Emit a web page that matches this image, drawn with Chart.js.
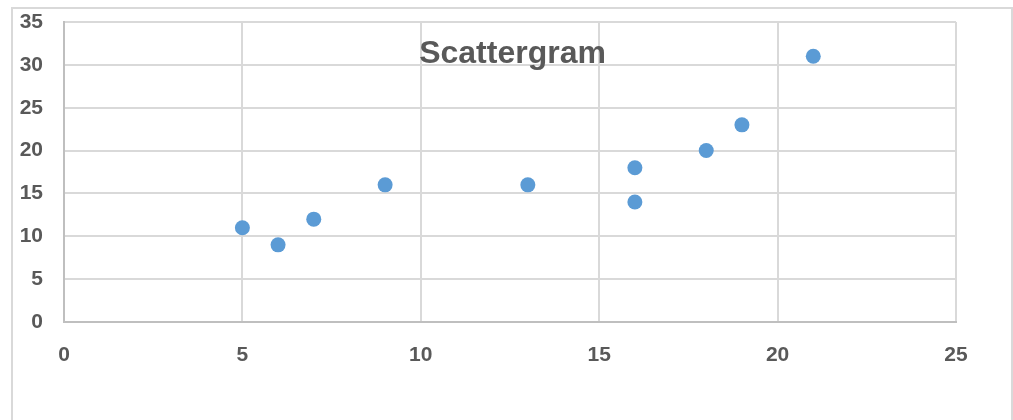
<!DOCTYPE html>
<html>
<head>
<meta charset="utf-8">
<script src="https://cdn.jsdelivr.net/npm/chart.js@4/dist/chart.umd.min.js"></script>
<style>
  html, body { margin: 0; padding: 0; background: #ffffff; }
  #wrap { position: relative; width: 1013px; height: 420px; overflow: hidden; }
  #frame { position: absolute; left: 11px; top: 7px; width: 1002px; height: 440px;
           border: 2px solid #d9d9d9; box-sizing: border-box; }
  #c { position: absolute; left: 0; top: 0; }
  #title { position: absolute; left: 0; width: 1025px; top: 30px; text-align: center;
           font-family: "Liberation Sans", Arial, sans-serif; font-weight: bold; font-size: 32px;
           color: #595959; line-height: 44px; pointer-events: none; }
</style>
</head>
<body>
<div id="wrap">
  <div id="frame"></div>
  <canvas id="c" width="1013" height="420"></canvas>
  <div id="title">Scattergram</div>
</div>
<script>
const titleText = "Scattergram";
const xValues = [5, 6, 7, 9, 13, 16, 16, 18, 19, 21];
const yValues = [11, 9, 12, 16, 16, 18, 14, 20, 23, 31];
const xTicks = [0, 5, 10, 15, 20, 25];
const yTicks = [0, 5, 10, 15, 20, 25, 30, 35];

document.getElementById('title').textContent = titleText;

const points = xValues.map((x, i) => ({ x: x, y: yValues[i] }));
const tickFont = { family: "'Liberation Sans', Arial, sans-serif", size: 21, weight: 'bold' };

new Chart(document.getElementById('c'), {
  type: 'scatter',
  data: {
    datasets: [{
      data: points,
      backgroundColor: '#5b9bd5',
      borderWidth: 0,
      pointRadius: 7.5,
      pointHoverRadius: 7.5
    }]
  },
  options: {
    responsive: false,
    animation: false,
    plugins: { legend: { display: false }, title: { display: false }, tooltip: { enabled: false } },
    layout: { autoPadding: false, padding: { left: 0, top: 22, right: 57, bottom: 38 } },
    scales: {
      x: {
        type: 'linear',
        min: xTicks[0], max: xTicks[xTicks.length - 1],
        afterBuildTicks: (s) => { s.ticks = xTicks.map(v => ({ value: v })); },
        afterFit: (s) => { s.height = 60; s.paddingLeft = 0; s.paddingRight = 0; },
        grid: { color: '#d9d9d9', lineWidth: 2, drawTicks: false },
        border: { color: '#bfbfbf', width: 2 },
        ticks: { color: '#595959', font: tickFont, padding: 21, maxRotation: 0 }
      },
      y: {
        type: 'linear',
        min: yTicks[0], max: yTicks[yTicks.length - 1],
        afterBuildTicks: (s) => { s.ticks = yTicks.map(v => ({ value: v })); },
        afterFit: (s) => { s.width = 64; s.paddingTop = 0; s.paddingBottom = 0; },
        grid: { color: '#d9d9d9', lineWidth: 2, drawTicks: false },
        border: { color: '#bfbfbf', width: 2 },
        ticks: { color: '#595959', font: tickFont, padding: 21 }
      }
    }
  }
});
</script>
</body>
</html>
